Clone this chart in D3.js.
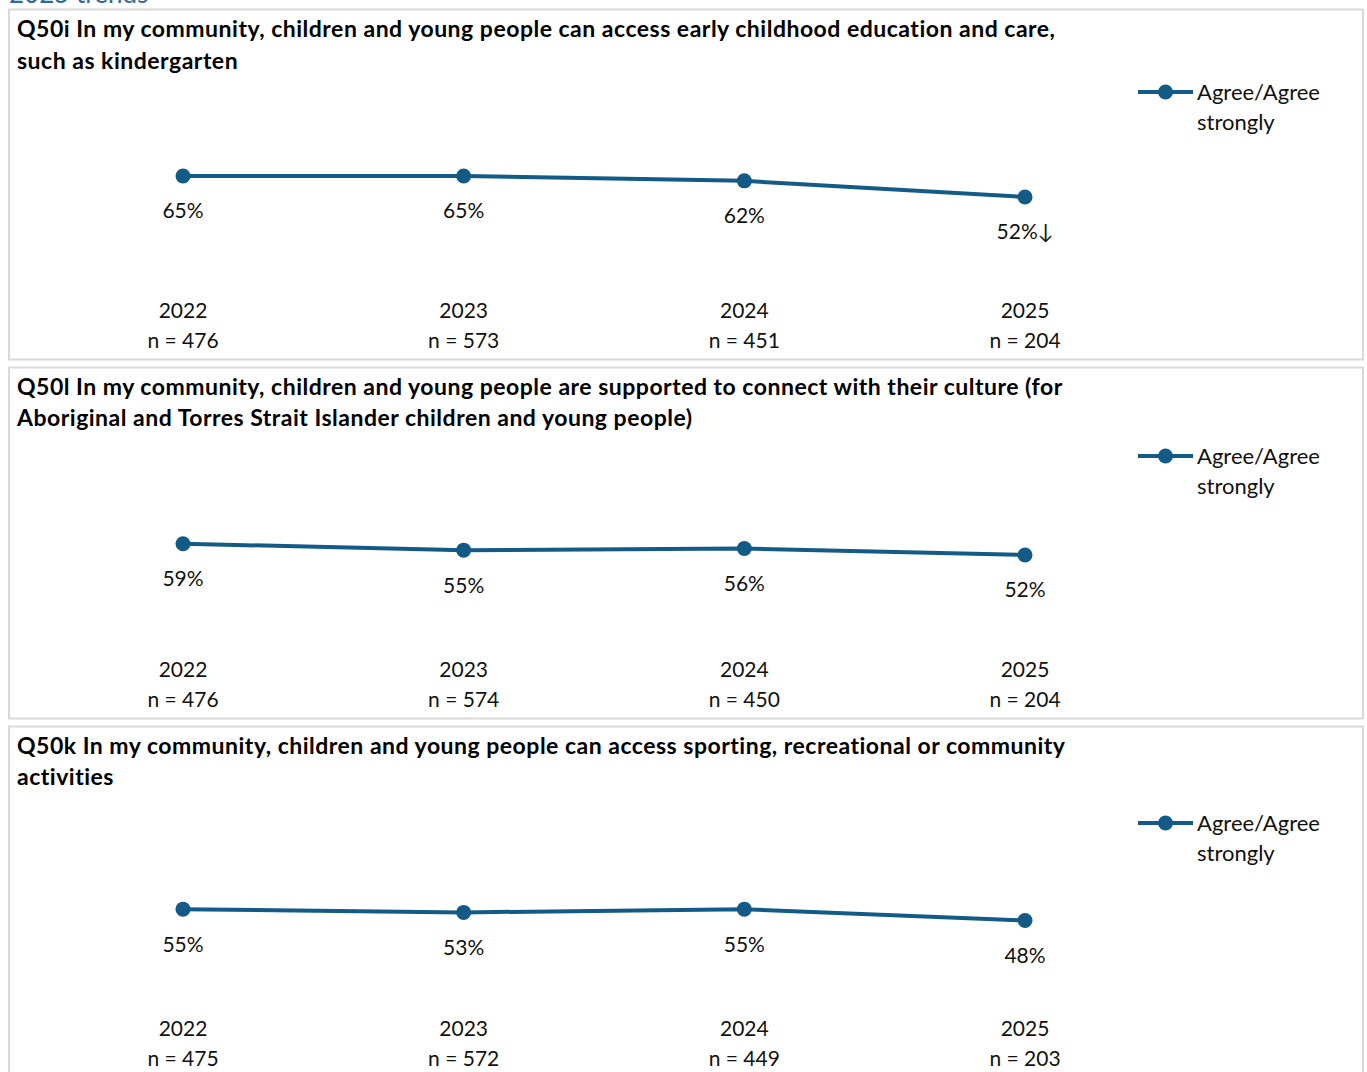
<!DOCTYPE html>
<html><head><meta charset="utf-8">
<script src="https://cdn.jsdelivr.net/npm/d3@7"></script>
<style>body{margin:0;background:#fff;} svg{display:block;font-family:Lato, "Open Sans", sans-serif;}</style>
</head><body>
<svg id="c" width="1367" height="1072"></svg>
<script>
const years = ["2022","2023","2024","2025"];
const titles = [
  ["Q50i In my community, children and young people can access early childhood education and care,", "such as kindergarten"],
  ["Q50l In my community, children and young people are supported to connect with their culture (for", "Aboriginal and Torres Strait Islander children and young people)"],
  ["Q50k In my community, children and young people can access sporting, recreational or community", "activities"]
];
const valuesQ50i = [65, 65, 62, 52];
const valuesQ50l = [59, 55, 56, 52];
const valuesQ50k = [55, 53, 55, 48];
const nQ50i = [476, 573, 451, 204];
const nQ50l = [476, 574, 450, 204];
const nQ50k = [475, 572, 449, 203];
const sigDown = [[false,false,false,true],[false,false,false,false],[false,false,false,false]];
const seriesName = ["Agree/Agree", "strongly"];
const heading = "2025 trends";

const panels = [
  {title: titles[0], values: valuesQ50i, n: nQ50i, sig: sigDown[0]},
  {title: titles[1], values: valuesQ50l, n: nQ50l, sig: sigDown[1]},
  {title: titles[2], values: valuesQ50k, n: nQ50k, sig: sigDown[2]}
];

const color = "#135a86";
const svg = d3.select("#c");

svg.append("text").attr("x", 9).attr("y", 3).attr("fill", "#2e6a9a")
  .attr("font-size", 26).text(heading);

const panelTops = [9, 367, 726];
const panelH = [350, 351, 360];
const legendY = [83, 89, 97];
const x = d3.scalePoint().domain(years).range([183, 1025]).padding(0);

panels.forEach((p, i) => {
  const top = panelTops[i];
  const g = svg.append("g").attr("transform", `translate(0,${top})`);
  g.append("rect").attr("x", 9).attr("y", 0.5).attr("width", 1354).attr("height", panelH[i])
    .attr("fill", "#fff").attr("stroke", "#d9d9d9").attr("stroke-width", 2);
  g.selectAll("text.title").data(p.title).join("text").attr("class","title")
    .attr("x", 17).attr("y", (d, j) => 20 + j * 32 + (i>0? j*-1:0)).attr("dy", "0.35em")
    .attr("font-size", 23).attr("letter-spacing", 0.5).attr("font-weight", "bold").attr("fill", "#000").text(d => d);

  const y = d3.scaleLinear().domain([0, 100]).range([272, 110.5]);
  const line = d3.line().x((d, j) => x(years[j])).y(d => y(d));
  g.append("path").datum(p.values).attr("d", line).attr("fill", "none")
    .attr("stroke", color).attr("stroke-width", 4);
  g.selectAll("circle").data(p.values).join("circle")
    .attr("cx", (d, j) => x(years[j])).attr("cy", d => y(d)).attr("r", 7.5).attr("fill", color);
  g.selectAll("text.val").data(p.values).join("text").attr("class","val")
    .attr("x", (d, j) => x(years[j])).attr("y", d => y(d) + 35).attr("dy", "0.35em")
    .attr("text-anchor", "middle").attr("font-size", 21).attr("fill", "#111")
    .text((d, j) => d + "%" + (p.sig[j] ? "\u2193" : ""));

  const yearY = i === 0 ? 302 : 303;
  g.selectAll("text.yr").data(years).join("text").attr("class","yr")
    .attr("x", d => x(d)).attr("y", yearY).attr("dy", "0.35em").attr("text-anchor", "middle")
    .attr("font-size", 21).attr("fill", "#111").text(d => d);
  g.selectAll("text.n").data(p.n).join("text").attr("class","n")
    .attr("x", (d, j) => x(years[j])).attr("y", yearY + 30).attr("dy", "0.35em").attr("text-anchor", "middle")
    .attr("font-size", 21).attr("fill", "#111").text(d => "n = " + d);

  const lg = g.append("g").attr("transform", `translate(0,${legendY[i]})`);
  lg.append("line").attr("x1", 1138).attr("x2", 1193).attr("y1", 0).attr("y2", 0)
    .attr("stroke", color).attr("stroke-width", 4);
  lg.append("circle").attr("cx", 1165.5).attr("cy", 0).attr("r", 7.5).attr("fill", color);
  lg.selectAll("text").data(seriesName).join("text").attr("x", 1197).attr("y", (d, j) => j * 30)
    .attr("dy", "0.35em").attr("font-size", 22).attr("fill", "#111").text(d => d);
});
</script>
</body></html>
